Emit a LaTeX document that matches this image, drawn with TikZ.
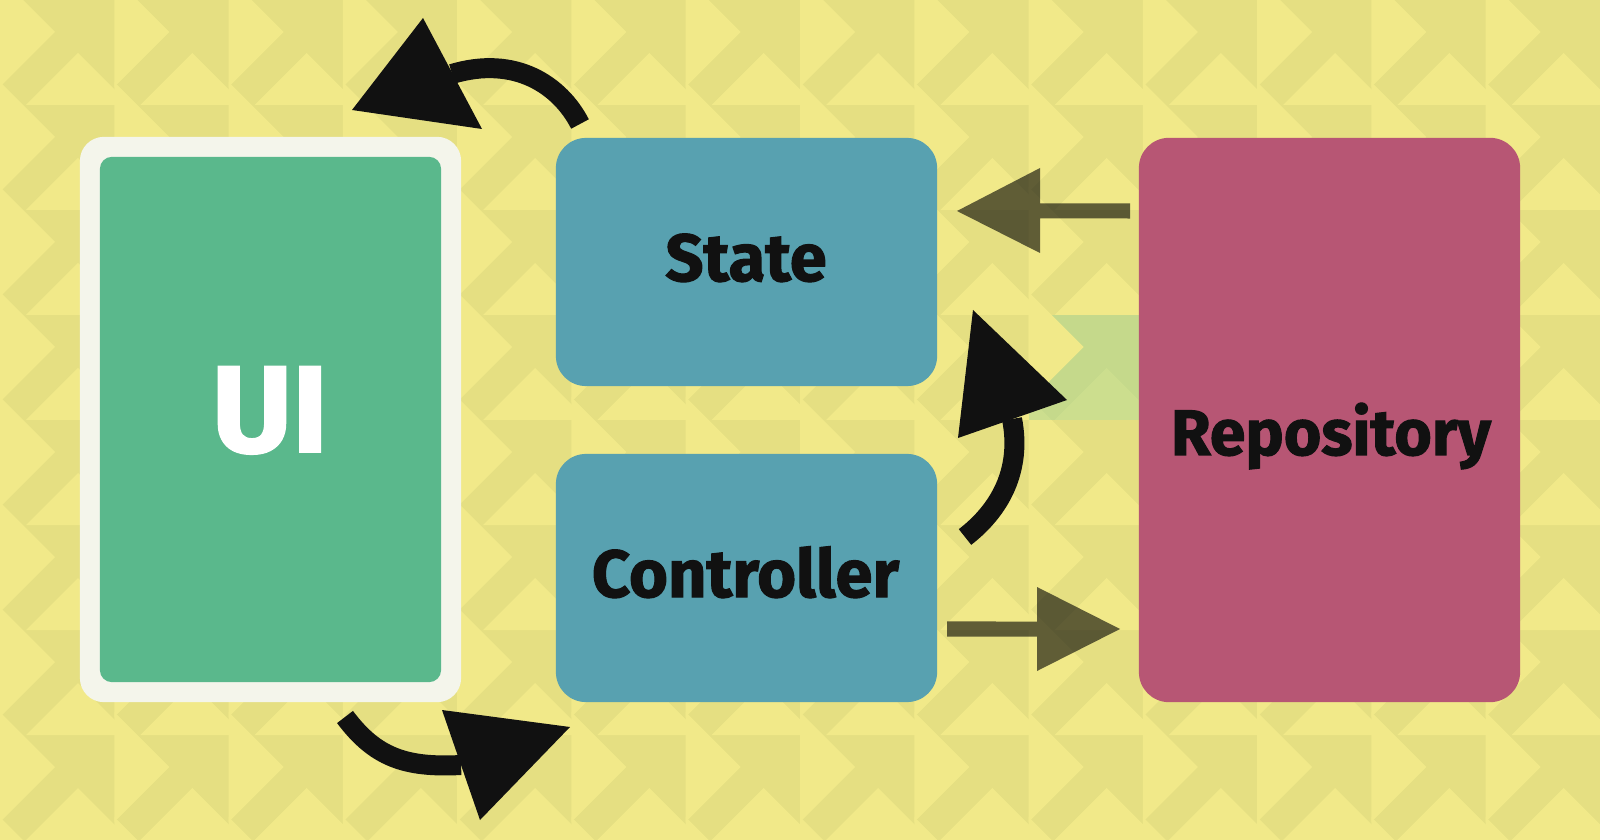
\documentclass[tikz,border=0pt]{standalone}
\usepackage{fontspec}
\setmainfont{Fira Sans}[BoldFeatures={FakeBold=1.6}]
\definecolor{bgdark}{RGB}{229,223,130}
\definecolor{bglight}{RGB}{241,233,137}
\definecolor{tintgreen}{RGB}{160,210,150}
\definecolor{uiwhite}{RGB}{244,245,235}
\definecolor{uigreen}{RGB}{90,184,140}
\definecolor{tealbox}{RGB}{88,161,176}
\definecolor{repobox}{RGB}{183,86,116}
\definecolor{ink}{RGB}{17,17,17}
\tikzset{
  box/.style={rectangle, inner sep=0pt, outer sep=0pt},
  lbl/.style={inner sep=0pt, anchor=base, text=ink, font=\bfseries\fontsize{19}{23}\selectfont},
  curvy/.style={draw=ink, line width=0.2cm, line cap=butt},
  headfill/.style={fill=ink},
  flat/.style={fill=black, fill opacity=0.6},
}
\begin{document}
\begin{tikzpicture}[x=0.01cm, y=-0.01cm]
\useasboundingbox (0,0) rectangle (1600,840);
% background pattern
\begin{scope}
\clip (0,0) rectangle (1600,840);
\fill[bgdark] (0,0) rectangle (1600,840);
\foreach \i in {-1,...,13} {
  \foreach \j in {0,...,8} {
    \pgfmathsetmacro\X{\i*114.2857}
    \pgfmathsetmacro\Y{\j*105}
    \fill[bglight] (\X,\Y-23) -- (\X+55,\Y+32) -- (\X,\Y+87) -- cycle;
    \fill[bglight] (\X+26,\Y+105) -- (\X+78,\Y+53) -- (\X+130,\Y+105) -- cycle;
  }
}
% green tinted cell
\fill[tintgreen, opacity=0.45] (1028.57,315) rectangle (1142.86,420);
\fill[bglight] (1028.57,315) -- (1051.57,315) -- (1083.57,347) -- (1028.57,402) -- cycle;
\end{scope}

% boxes
\node[box, fill=uiwhite, rounded corners=0.24cm, minimum width=3.81cm, minimum height=5.65cm] (uiframe) at (270.5,419.5) {};
\node[box, fill=uigreen, rounded corners=0.12cm, minimum width=3.41cm, minimum height=5.25cm] (ui) at (270.5,419.5) {};
\node[box, fill=tealbox, rounded corners=0.3cm, minimum width=3.81cm, minimum height=2.48cm] (state) at (746.5,262) {};
\node[box, fill=tealbox, rounded corners=0.3cm, minimum width=3.81cm, minimum height=2.48cm] (ctrl) at (746.5,578) {};
\node[box, fill=repobox, rounded corners=0.3cm, minimum width=3.81cm, minimum height=5.64cm] (repo) at (1329.5,420) {};

% labels
\node[lbl, text=white, font=\bfseries\fontsize{35}{40}\selectfont] (uitext) at (270,452) {UI};
\node[lbl] (statetext) at (746,281) {State};
\node[lbl] (ctrltext) at (745.5,597) {Controller};
\node[lbl, font=\bfseries\fontsize{18.3}{22}\selectfont] (repotext) at (1331,455) {Repository};

% connector coordinates
\coordinate (aS) at (580,124);
\coordinate (aE) at (452,74);
\coordinate (aT) at (352,110);
\coordinate (aU) at (423,18);
\coordinate (aL) at (482,129);

\coordinate (bS) at (345,717);
\coordinate (bE) at (461,765);
\coordinate (bT) at (570,727);
\coordinate (bU) at (442,710);
\coordinate (bL) at (480,820);

\coordinate (cS) at (965,537);
\coordinate (cE) at (1012,419);
\coordinate (cT) at (973,310);
\coordinate (cU) at (958,438);
\coordinate (cL) at (1067,400);

% curved arrows
\draw[curvy] (aS) .. controls (560,85) and (515,55) .. (aE);
\fill[headfill] (aT) -- (aU) -- (aL) -- cycle;

\draw[curvy] (bS) .. controls (375,757) and (405,768) .. (bE);
\fill[headfill] (bT) -- (bU) -- (bL) -- cycle;

\draw[curvy] (cS) .. controls (1000,510) and (1022,470) .. (cE);
\fill[headfill] (cT) -- (cU) -- (cL) -- cycle;

% straight translucent arrows
\coordinate (dS) at (1130,211);
\coordinate (dT) at (957,211);
\fill[flat] ([yshift=0.075cm]dS) -- (1040,203.5) -- (1040,168) -- (dT) -- (1040,253) -- (1040,218.5) -- ([yshift=-0.075cm]dS) -- cycle;

\coordinate (eS) at (947,629);
\coordinate (eT) at (1120,629);
\fill[flat] ([yshift=0.075cm]eS) -- (1037,621.5) -- (1037,587) -- (eT) -- (1037,671) -- (1037,636.5) -- ([yshift=-0.075cm]eS) -- cycle;
\end{tikzpicture}
\end{document}
